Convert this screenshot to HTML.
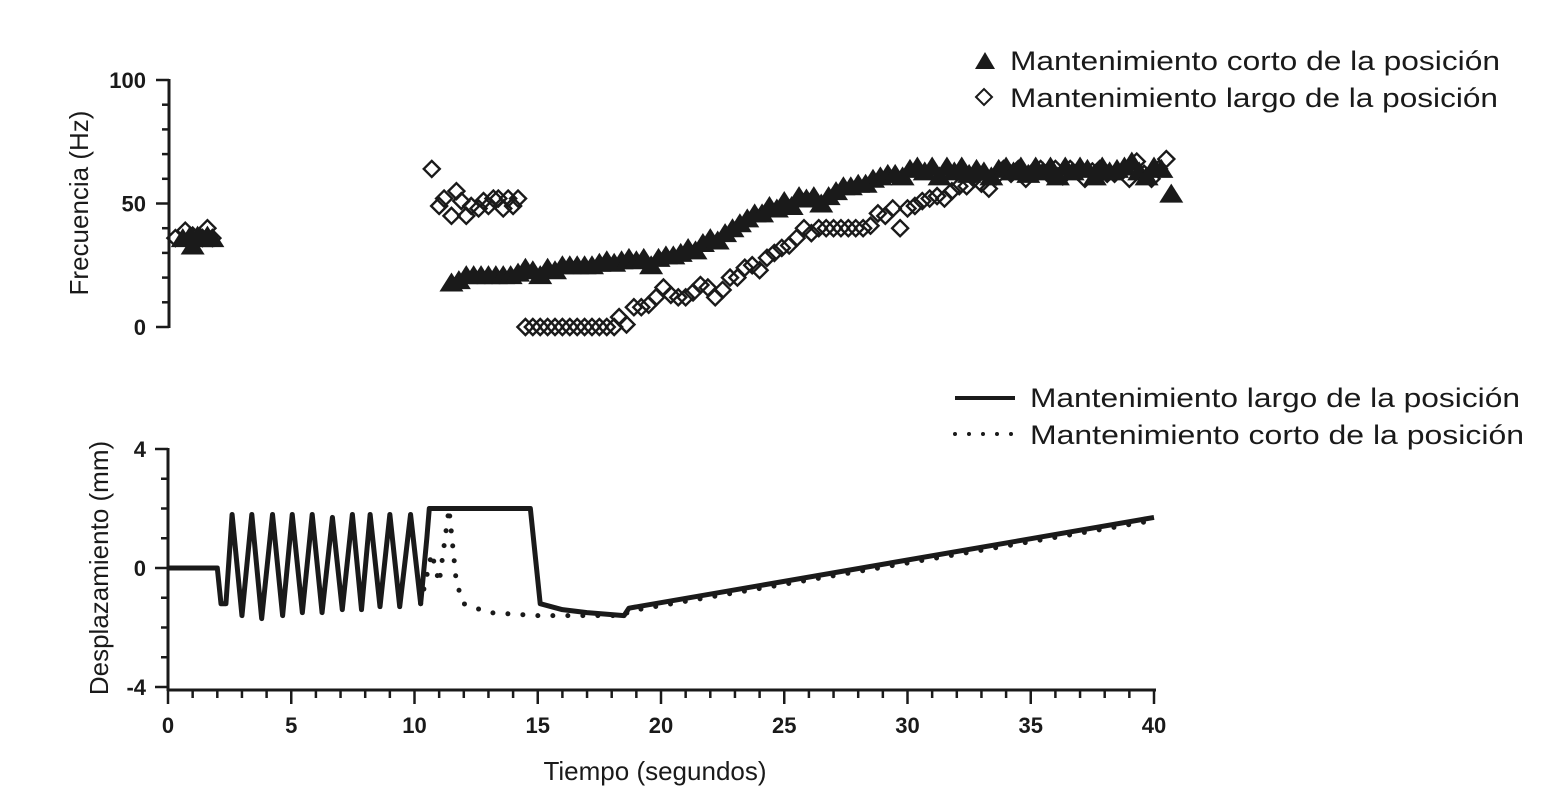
<!DOCTYPE html>
<html><head><meta charset="utf-8"><style>
html,body{margin:0;padding:0;background:#fff}
svg{display:block}
text{font-family:"Liberation Sans",sans-serif;fill:#1a1a1a}
</style></head><body>
<svg id="chart" width="1566" height="808" viewBox="0 0 1566 808" xmlns="http://www.w3.org/2000/svg">
<g id="topPanel"></g>
<g id="botPanel"></g>
<g>
  <polygon points="975,69 985,52 995,69" fill="#1a1a1a"/>
  <text x="1010" y="70" font-size="27" textLength="490" lengthAdjust="spacingAndGlyphs">Mantenimiento corto de la posición</text>
  <polygon points="976,97 984,89 992,97 984,105" fill="#fff" stroke="#1a1a1a" stroke-width="2"/>
  <text x="1010" y="107" font-size="27" textLength="488" lengthAdjust="spacingAndGlyphs">Mantenimiento largo de la posición</text>
</g>
<g>
  <line x1="955" y1="398" x2="1015" y2="398" stroke="#1a1a1a" stroke-width="4"/>
  <text x="1030" y="407" font-size="27" textLength="490" lengthAdjust="spacingAndGlyphs">Mantenimiento largo de la posición</text>
  <line x1="955" y1="434" x2="1015" y2="434" stroke="#1a1a1a" stroke-width="4" stroke-linecap="round" stroke-dasharray="0 14"/>
  <text x="1030" y="444" font-size="27" textLength="494" lengthAdjust="spacingAndGlyphs">Mantenimiento corto de la posición</text>
</g>
<text transform="translate(88,203) rotate(-90)" text-anchor="middle" font-size="26">Frecuencia (Hz)</text>
<text transform="translate(108,568) rotate(-90)" text-anchor="middle" font-size="26">Desplazamiento (mm)</text>
<text x="655" y="780" text-anchor="middle" font-size="26">Tiempo (segundos)</text>
</svg>
<script>
const xTicks = [0,5,10,15,20,25,30,35,40];
const freqTicks = [0,50,100];
const dispTicks = [-4,0,4];
const shortHoldData = [[0.6,36],[0.9,37],[1.0,33],[1.2,37],[1.4,36],[1.6,37],[1.8,36],
[11.5,18],[11.8,19],[12.1,21],[12.4,21],[12.7,21],[13.0,21],[13.3,21],[13.6,21],[13.9,21],[14.2,22],[14.5,24],[14.8,23],[15.1,21],[15.4,24],[15.7,23],[16.0,25],[16.3,25],[16.6,25],[16.9,25],[17.2,25],[17.5,26],[17.8,27],[18.1,26],[18.4,27],[18.7,28],[19.0,27],[19.3,28],[19.6,25],[19.9,28],[20.2,29],[20.5,29],[20.8,30],[21.1,32],[21.4,31],[21.7,34],[22.0,36],[22.3,35],[22.6,38],[22.9,40],[23.2,42],[23.5,44],[23.8,46],[24.1,46],[24.4,49],[24.7,48],[25.0,51],[25.3,49],[25.6,53],[25.9,52],[26.2,53],[26.5,50],[26.8,53],[27.1,55],[27.4,57],[27.7,57],[28.0,58],[28.3,58],[28.6,60],[28.9,61],[29.2,62],[29.5,62],[29.8,61],[30.1,64],[30.4,65],[30.7,63],[31.0,65],[31.3,61],[31.6,65],[31.9,63],[32.2,65],[32.5,62],[32.8,64],[33.1,63],[33.4,61],[33.7,64],[34.0,65],[34.3,63],[34.6,65],[34.9,62],[35.2,65],[35.5,63],[35.8,65],[36.1,61],[36.4,65],[36.7,63],[37.0,65],[37.3,64],[37.6,61],[37.9,65],[38.2,63],[38.5,64],[38.8,65],[39.1,67],[39.4,63],[39.7,61],[40.0,65],[40.3,64],[40.7,54]];
const longHoldData = [[0.3,36],[0.7,39],[1.0,37],[1.4,36],[1.6,40],[1.8,36],
[10.7,64],[11.0,49],[11.2,52],[11.5,45],[11.7,55],[11.9,51],[12.1,45],[12.3,49],[12.6,48],[12.8,51],[13.0,49],[13.2,52],[13.4,52],[13.6,48],[13.8,52],[14.0,49],[14.2,52],
[14.5,0],[14.8,0],[15.1,0],[15.4,0],[15.7,0],[16.0,0],[16.3,0],[16.6,0],[16.9,0],[17.2,0],[17.5,0],[17.8,0],[18.1,0],[18.3,4],[18.6,1],[18.9,8],[19.2,8],[19.5,9],[19.8,12],[20.1,16],[20.4,13],[20.7,12],[21.0,12],[21.3,14],[21.6,17],[21.9,16],[22.2,12],[22.5,15],[22.8,20],[23.1,20],[23.4,24],[23.7,25],[24.0,23],[24.3,28],[24.6,30],[24.9,32],[25.2,33],[25.5,36],[25.8,40],[26.1,38],[26.4,40],[26.7,40],[27.0,40],[27.3,40],[27.6,40],[27.9,40],[28.2,40],[28.5,41],[28.8,46],[29.1,45],[29.4,48],[29.7,40],[30.0,48],[30.3,49],[30.6,51],[30.9,52],[31.2,53],[31.5,52],[31.8,55],[32.1,57],[32.4,57],[32.7,60],[33.0,58],[33.3,56],[33.6,61],[33.9,64],[34.2,62],[34.5,64],[34.8,60],[35.1,63],[35.4,64],[35.7,62],[36.0,64],[36.3,61],[36.6,64],[36.9,63],[37.2,60],[37.5,63],[37.8,64],[38.1,62],[38.4,62],[38.7,63],[39.0,60],[39.3,67],[39.6,62],[39.9,60],[40.2,64],[40.5,68]];
const longLineTime = [0,2.0,2.15,2.35,2.6,3.0,3.4,3.8,4.24,4.65,5.04,5.45,5.85,6.25,6.67,7.07,7.48,7.85,8.2,8.6,9.0,9.4,9.84,10.25,10.5,10.6,14.7,15.1,16,17,18.5,18.7,40];
const longLineDisp = [0,0,-1.2,-1.2,1.8,-1.6,1.8,-1.7,1.8,-1.6,1.8,-1.5,1.8,-1.5,1.7,-1.4,1.8,-1.4,1.8,-1.3,1.8,-1.3,1.8,-1.2,1.0,2.0,2.0,-1.2,-1.4,-1.5,-1.6,-1.35,1.7];
const shortLineTime = [10.25,10.7,11.0,11.4,11.7,12.0,13,15,18.5,18.7,40];
const shortLineDisp = [-1.2,0.5,-0.5,2.0,-0.5,-1.2,-1.5,-1.6,-1.6,-1.45,1.6];

const NS='http://www.w3.org/2000/svg';
const X0=168, X1=1154;
const xs = t => X0 + (t/40)*(X1-X0);
const yTop = f => 327 - (f/100)*(327-80);
const yBot = d => 568 - (d/4)*(568-449);
function mk(tag, parent, attrs){const e=document.createElementNS(NS,tag);for(const k in attrs)e.setAttribute(k,attrs[k]);parent.appendChild(e);return e;}
const topG=document.getElementById('topPanel'), botG=document.getElementById('botPanel');

let ax=mk('line',topG,{x1:169,y1:79,x2:169,y2:328,stroke:'#1a1a1a','stroke-width':3});


for(let v=0;v<=100;v+=10){
  const major=v%50===0;
  const tk=mk('line',topG,{x1:major?156:162,y1:yTop(v),x2:169,y2:yTop(v),stroke:'#1a1a1a','stroke-width':2.5});
  
  
}
freqTicks.forEach(v=>{const t=mk('text',topG,{x:146,y:yTop(v)+8,'text-anchor':'end','font-size':22,'font-weight':'bold'});t.textContent=v;
  
  });

longHoldData.forEach(([t,f])=>{const x=xs(t),y=yTop(f);
  const d=mk('polygon',topG,{points:`${x-8},${y} ${x},${y-8} ${x+8},${y} ${x},${y+8}`,fill:'none',stroke:'#1a1a1a','stroke-width':2.4});
  
  });
shortHoldData.forEach(([t,f])=>{const x=xs(t),y=yTop(f);
  const p=mk('polygon',topG,{points:`${x-12},${y+9} ${x},${y-10} ${x+12},${y+9}`,fill:'#1a1a1a'});
  
  });

let ay=mk('line',botG,{x1:168,y1:448,x2:168,y2:691,stroke:'#1a1a1a','stroke-width':3});


let axx=mk('line',botG,{x1:168,y1:690,x2:1156,y2:690,stroke:'#1a1a1a','stroke-width':3});


for(let v=-4;v<=4;v++){const major=v%4===0;
  const tk=mk('line',botG,{x1:major?155:161,y1:yBot(v),x2:168,y2:yBot(v),stroke:'#1a1a1a','stroke-width':2.5});
  
  }
dispTicks.forEach(v=>{const t=mk('text',botG,{x:146,y:yBot(v)+8,'text-anchor':'end','font-size':22,'font-weight':'bold'});t.textContent=v;
  
  });
for(let v=0;v<=40;v++){const major=v%5===0;
  const tk=mk('line',botG,{x1:xs(v),y1:690,x2:xs(v),y2:major?704:698,stroke:'#1a1a1a','stroke-width':2.5});
  
  }
xTicks.forEach(v=>{const t=mk('text',botG,{x:xs(v),y:733,'text-anchor':'middle','font-size':22,'font-weight':'bold'});t.textContent=v;
  
  });

const dotted=mk('polyline',botG,{points:shortLineTime.map((t,i)=>xs(t)+','+yBot(shortLineDisp[i])).join(' '),fill:'none',stroke:'#1a1a1a','stroke-width':5,'stroke-linecap':'round','stroke-dasharray':'0 15'});


const solid=mk('polyline',botG,{points:longLineTime.map((t,i)=>xs(t)+','+yBot(longLineDisp[i])).join(' '),fill:'none',stroke:'#1a1a1a','stroke-width':5,'stroke-linejoin':'round'});


</script>
</body></html>
